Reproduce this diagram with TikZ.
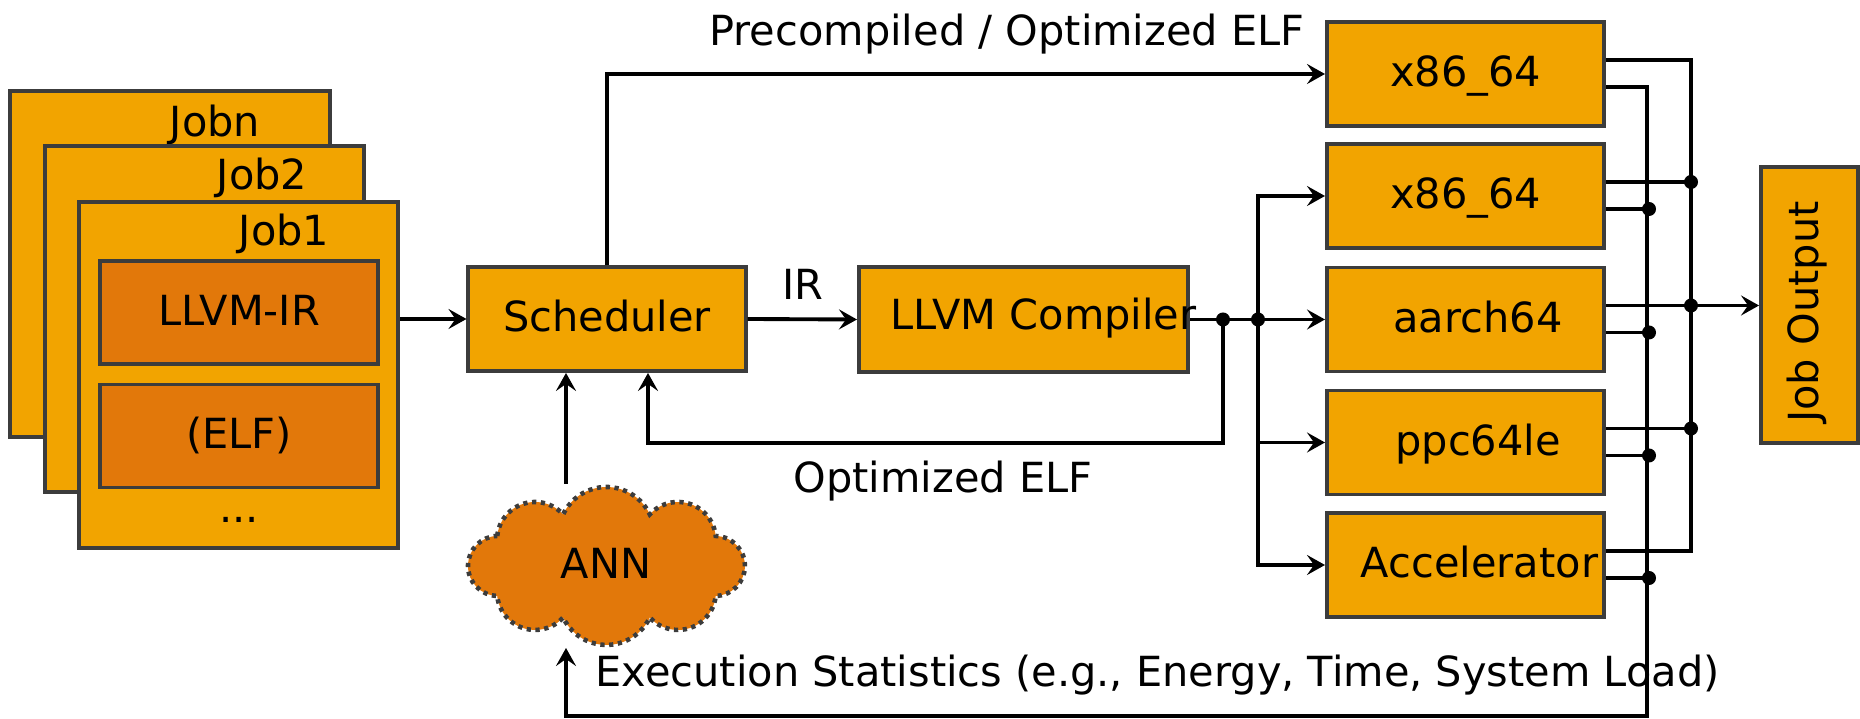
\documentclass[tikz,border=0pt]{standalone}
\usepackage{fontspec}
\setmainfont{DejaVu Sans}
\usetikzlibrary{arrows.meta,calc}
\definecolor{boxor}{RGB}{242,164,0}
\definecolor{darkor}{RGB}{226,120,10}
\definecolor{bord}{RGB}{60,60,60}
\begin{document}
\begin{tikzpicture}[x=0.01cm,y=-0.01cm,
  font=\fontsize{11.8}{14}\selectfont,
  box/.style={draw=bord,line width=1.1pt,fill=boxor,minimum width=2.77cm,minimum height=1.04cm,inner sep=0pt,text height=0.73em,text depth=0pt},
  innerbox/.style={box,fill=darkor,minimum width=2.78cm,minimum height=1.03cm},
  lbl/.style={inner sep=0pt,anchor=base},
  ctext/.style={inner sep=0pt,text height=0.73em,text depth=0pt},
  conn/.style={line width=1.1pt,black},
  arr/.style={conn,-{Stealth[length=0.18cm,width=0.2cm,inset=0.07cm]}},
  dot/.style={fill=black},
  cloudline/.style={fill=darkor,draw=bord,line width=1.3pt,dash pattern=on 1.2pt off 1.3pt}
]
\useasboundingbox (0,0) rectangle (1860,719);

% job stack
\node[box,minimum width=3.20cm,minimum height=3.46cm] (jobn) at (170,264) {};
\node[lbl] (tjobn) at (215,137) {Jobn};
\node[box,minimum width=3.19cm,minimum height=3.46cm] (job2) at (204.5,319) {};
\node[lbl] (tjob2) at (262,190) {Job2};
\node[box,minimum width=3.19cm,minimum height=3.46cm] (job1) at (238.5,375) {};
\node[lbl] (tjob1) at (284,246) {Job1};
\node[innerbox] (ir) at (239,312.5) {LLVM-IR};
\node[innerbox] (elf) at (239,436) {(ELF)};
\node[lbl] (dots) at (239,523) {...};

% main boxes
\node[box] (sched) at (607,319) {Scheduler};
\node[box,minimum width=3.29cm,minimum height=1.05cm] (comp) at (1023.5,319.5) {};
\node[ctext] (tcomp) at (1043.5,317) {LLVM Compiler};

\node[box] (x1) at (1465.5,74) {x86\_64};
\node[box] (x2) at (1465.5,196) {x86\_64};
\node[box] (aa) at (1465.5,319.5) {\hspace*{0.25cm}aarch64};
\node[box] (ppc) at (1465.5,442.5) {\hspace*{0.25cm}ppc64le};
\node[box] (acc) at (1465.5,565) {\hspace*{0.28cm}Accelerator};

\node[box,minimum width=0.97cm,minimum height=2.76cm] (out) at (1809.5,305) {};
\node[ctext,rotate=90] (tout) at (1806,312) {Job Output};

% ANN cloud
\path[cloudline] (497.2,536)
  arc[start angle=186,end angle=317.7,radius=38]
  arc[start angle=205.4,end angle=334.6,radius=48]
  arc[start angle=222.3,end angle=353.96,radius=38]
  arc[start angle=271.5,end angle=448.5,radius=30]
  arc[start angle=6.04,end angle=137.7,radius=38]
  arc[start angle=25.4,end angle=154.6,radius=48]
  arc[start angle=42.3,end angle=174,radius=38]
  arc[start angle=91.5,end angle=268.5,radius=30] -- cycle;
\node[ctext] (ann) at (606,566) {ANN};

% labels
\node[lbl] (lpre) at (1007,46) {Precompiled / Optimized ELF};
\node[lbl] (lir) at (803,300) {IR};
\node[lbl] (lopt) at (943,493) {Optimized ELF};
\node[lbl,anchor=base west] (lexe) at (595,687) {Execution Statistics (e.g., Energy, Time, System Load)};

% connectors
\draw[arr] (job1.east |- sched.west) -- (sched.west);
\draw[arr] (sched.east) -- (comp.west);
\draw[arr] (sched.north) |- (x1.west);

\coordinate (j1) at (1223,319.5);
\coordinate (j2) at (1258,319.5);
\coordinate (fb) at ($(sched.south)+(41,0)$);
\draw[conn] (comp.east) -- (j2);
\draw[arr] (j2) -- (aa.west);
\draw[arr] (j1) -- (1223,443) -| (fb);
\draw[arr] (j2) |- (x2.west);
\draw[arr] (j2) |- (ppc.west);
\draw[arr] (j2) |- (acc.west);
\fill[dot] (j1) circle (0.07cm);
\fill[dot] (j2) circle (0.07cm);

\coordinate (annout) at (566,484);
\draw[arr] (annout) -- (annout |- sched.south);

% output bus A (upper outputs)
\draw[conn] ($(x1.east)+(0,-14)$) -| ($(acc.east)+(85,-14)$) -- ($(acc.east)+(0,-14)$);
\foreach \n in {x2,aa,ppc}{
  \draw[conn] ($(\n.east)+(0,-14)$) -- ++(85,0);
  \fill[dot] ($(\n.east)+(85,-14)$) circle (0.07cm);
}
\coordinate (oA) at ($(aa.east)+(85,-14)$);
\draw[arr] (oA) -- (oA -| out.west);

% output bus B (lower outputs) back to ANN
\coordinate (annin) at (566,648);
\draw[arr] ($(x1.east)+(0,13)$) -| (1647,716) -| (annin);
\foreach \n in {x2,aa,ppc,acc}{
  \draw[conn] ($(\n.east)+(0,13)$) -- ++(43,0);
  \fill[dot] ($(\n.east)+(43,13)$) circle (0.07cm);
}
\end{tikzpicture}
\end{document}
